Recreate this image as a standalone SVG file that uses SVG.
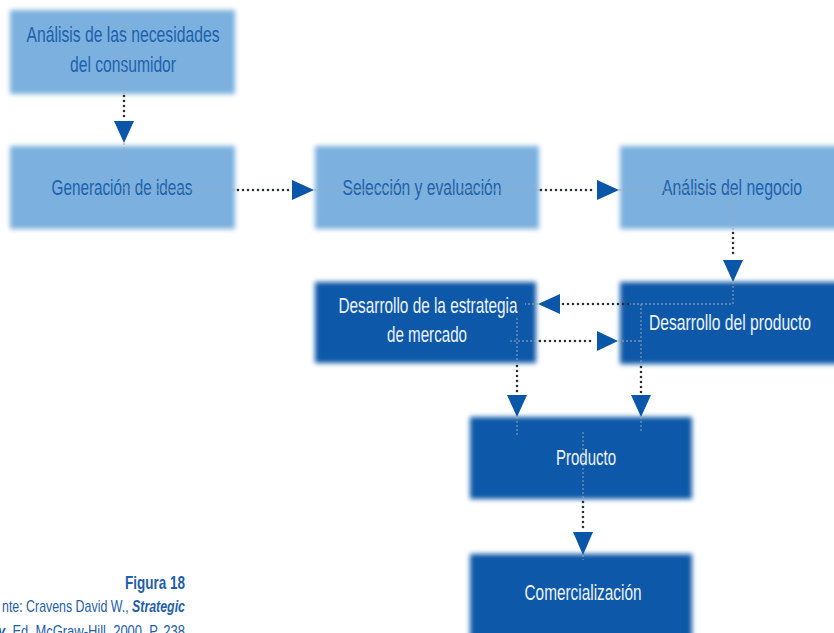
<svg xmlns="http://www.w3.org/2000/svg" width="834" height="633" viewBox="0 0 834 633">
<defs>
<filter id="soft" x="-10%" y="-15%" width="120%" height="130%"><feGaussianBlur stdDeviation="2.6"/></filter>
<style>
.light{fill:#7cb0de;filter:url(#soft)}
.dark{fill:#0b58a8;filter:url(#soft)}
.t{font-family:"Liberation Sans Narrow","Liberation Sans",Arial,sans-serif;font-size:22px;text-anchor:middle}
.tl{fill:#1c62ad}
.td{fill:#eef3fb}
.dot{stroke:#2a2f35;stroke-width:2.6;stroke-linecap:round;stroke-dasharray:0 5;fill:none}
.faint{stroke:#9aa6b4;stroke-width:1.4;stroke-dasharray:2 2;fill:none;opacity:0.7}
.ah{fill:#0a56a8}
.cap{font-family:"Liberation Sans Narrow","Liberation Sans",Arial,sans-serif;fill:#1f60aa}
</style>
</defs>
<g id="n1"><rect class="light" x="10" y="10" width="225" height="84"/>
<text class="t tl" x="123" y="42" textLength="193" lengthAdjust="spacingAndGlyphs">Análisis de las necesidades</text>
<text class="t tl" x="123" y="72" textLength="106" lengthAdjust="spacingAndGlyphs">del consumidor</text></g>
<g id="n2"><rect class="light" x="10" y="146" width="225" height="83"/>
<text class="t tl" x="122" y="195" textLength="141" lengthAdjust="spacingAndGlyphs">Generación de ideas</text></g>
<g id="n3"><rect class="light" x="315" y="146" width="224" height="83"/>
<text class="t tl" x="422" y="195" textLength="159" lengthAdjust="spacingAndGlyphs">Selección y evaluación</text></g>
<g id="n4"><rect class="light" x="620" y="146" width="220" height="83"/>
<text class="t tl" x="732" y="195" textLength="140" lengthAdjust="spacingAndGlyphs">Análisis del negocio</text></g>
<g id="n5"><rect class="dark" x="315" y="282" width="221" height="81"/>
<text class="t td" x="428" y="313" textLength="179" lengthAdjust="spacingAndGlyphs">Desarrollo de la estrategia</text>
<text class="t td" x="427" y="342" textLength="80" lengthAdjust="spacingAndGlyphs">de mercado</text></g>
<g id="n6"><rect class="dark" x="620" y="282" width="220" height="82"/>
<text class="t td" x="730" y="330" textLength="162" lengthAdjust="spacingAndGlyphs">Desarrollo del producto</text></g>
<g id="n7"><rect class="dark" x="470" y="417" width="222" height="82"/>
<text class="t td" x="586" y="465" textLength="60" lengthAdjust="spacingAndGlyphs">Producto</text></g>
<g id="n8"><rect class="dark" x="470" y="554" width="222" height="92"/>
<text class="t td" x="583" y="600" textLength="117" lengthAdjust="spacingAndGlyphs">Comercialización</text></g>
<g id="connectors">
<path class="faint" d="M124 25V94M124 143V190H235M314 190H540M619 190H733V231M733 282V304H630M538 304H525M517 318V364M510 341H540M618 341H641M641 304V365M641 417V432M517 417V437M583 432V500M583 555V560"/>
<path class="dot" d="M124 96V118M238 190H290M541 190H595M733 233V257M628 304H562M540 341H595M517 366V393M641 367V393M583 502V530"/>
<polygon class="ah" points="114,121 134,121 124,143"/>
<polygon class="ah" points="292,180 292,200 314,190"/>
<polygon class="ah" points="597,180 597,200 619,190"/>
<polygon class="ah" points="723,260 743,260 733,282"/>
<polygon class="ah" points="560,294 560,314 538,304"/>
<polygon class="ah" points="597,331 597,351 618,341"/>
<polygon class="ah" points="507,395 527,395 517,417"/>
<polygon class="ah" points="631,395 651,395 641,417"/>
<polygon class="ah" points="573,532 593,532 583,555"/>
</g>
<g id="caption">
<text class="cap" x="185" y="589" font-size="19" font-weight="bold" text-anchor="end" textLength="60" lengthAdjust="spacingAndGlyphs">Figura 18</text>
<text class="cap" x="2" y="612" font-size="17" textLength="183" lengthAdjust="spacingAndGlyphs">nte: Cravens David W., <tspan font-weight="bold" font-style="italic">Strategic</tspan></text>
<text class="cap" x="-2" y="637" font-size="17" textLength="187" lengthAdjust="spacingAndGlyphs"><tspan font-weight="bold" font-style="italic">y</tspan>, Ed. McGraw-Hill, 2000, P. 238</text>
</g>
</svg>
